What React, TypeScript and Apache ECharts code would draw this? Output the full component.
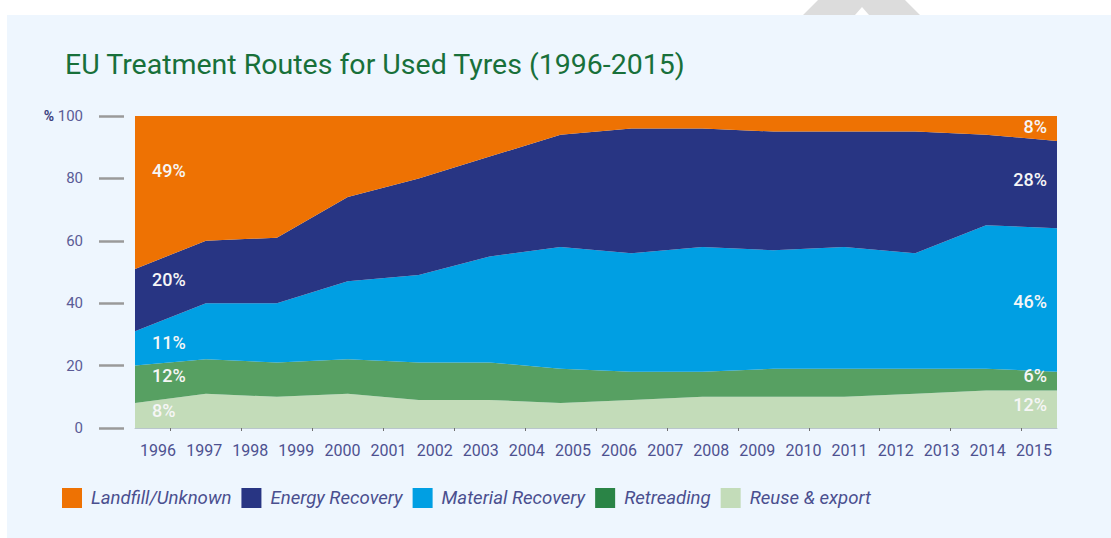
import React, { useEffect, useRef } from "react";
import * as echarts from "echarts";

// ---- data ----
const yearLabels = ["1996","1997","1998","1999","2000","2001","2002","2003","2004","2005","2006","2007","2008","2009","2010","2011","2012","2013","2014","2015"];
const samplePoints = ["p1","p2","p3","p4","p5","p6","p7","p8","p9","p10","p11","p12","p13","p14"];
const tickMarks = ["t1","t2","t3","t4","t5","t6","t7","t8","t9","t10","t11","t12","t13"];

const reuseExport = [8, 11, 10, 11, 9, 9, 8, 9, 10, 10, 10, 11, 12, 12];
const retreading = [12, 11, 11, 11, 12, 12, 11, 9, 8, 9, 9, 8, 7, 6];
const materialRecovery = [11, 18, 19, 25, 28, 34, 39, 38, 40, 38, 39, 37, 46, 46];
const energyRecovery = [20, 20, 21, 27, 31, 32, 36, 40, 38, 38, 37, 39, 29, 28];
const landfill = [49, 40, 39, 26, 20, 13, 6, 4, 4, 5, 5, 5, 6, 8];

const seriesNames = ["Landfill/Unknown", "Energy Recovery", "Material Recovery", "Retreading", "Reuse & export"];
const yTicks = [0, 20, 40, 60, 80, 100];

// value labels: [text, y-anchor in % units]
const leftLabels: [string, number][] = [["49%", 82.5], ["20%", 47.5], ["11%", 27.3], ["12%", 16.7], ["8%", 5.5]];
const rightLabels: [string, number][] = [["8%", 96.6], ["28%", 79.8], ["46%", 40.5], ["6%", 16.7], ["12%", 7.5]];

const FONT = "Roboto, 'Noto Sans', sans-serif";

export default function App() {
  const ref = useRef<HTMLDivElement>(null);
  useEffect(() => {
    if (!ref.current) return;
    const chart = echarts.init(ref.current, undefined, { renderer: "svg" });
    const colors = {
      landfill: "#ee7203",
      energy: "#283583",
      material: "#009fe3",
      retread: "#57a062",
      retreadLegend: "#2a8446",
      reuse: "#c3dcb9",
    };
    const mk = (labels: [string, number][], side: "left" | "right") =>
      labels.map(([t, v]) => ({
        name: t,
        coord: [side === "left" ? 0 : samplePoints.length - 1, v],
        symbol: "rect",
        symbolSize: 1,
        itemStyle: { color: "rgba(0,0,0,0)" },
        label: {
          show: true,
          formatter: "{b}",
          position: "inside",
          align: side === "left" ? "left" : "right",
          verticalAlign: "middle",
          offset: side === "left" ? [17, 0] : [-10, 0],
          color: "#f6f6f6",
          fontSize: 18,
          fontWeight: 500,
          fontFamily: FONT,
        },
      }));

    const allMarks = [...mk(leftLabels, "left"), ...mk(rightLabels, "right")];

    const seriesDef = [
      { name: "Reuse & export", data: reuseExport, color: colors.reuse },
      { name: "Retreading", data: retreading, color: colors.retread },
      { name: "Material Recovery", data: materialRecovery, color: colors.material },
      { name: "Energy Recovery", data: energyRecovery, color: colors.energy },
      { name: "Landfill/Unknown", data: landfill, color: colors.landfill },
    ];

    const legendColors: Record<string, string> = {
      "Landfill/Unknown": colors.landfill,
      "Energy Recovery": colors.energy,
      "Material Recovery": colors.material,
      "Retreading": colors.retreadLegend,
      "Reuse & export": colors.reuse,
    };

    chart.setOption({
      animation: false,
      backgroundColor: "#ffffff",
      graphic: [
        {
          type: "polygon",
          z: -10,
          shape: { points: [[803, 15], [818, 0], [905, 0], [920, 15], [869, 15], [862, 7], [855, 15]] },
          style: { fill: "#dcdcdc" },
          silent: true,
        },
        {
          type: "rect",
          z: -10,
          shape: { x: 7, y: 15, width: 1104, height: 523 },
          style: { fill: "#eef6fe" },
          silent: true,
        },
      ],
      title: {
        text: "EU Treatment Routes for Used Tyres (1996-2015)",
        left: 65,
        top: 50,
        padding: 0,
        textStyle: { color: "#18703a", fontSize: 28.5, fontWeight: 400, fontFamily: FONT },
      },
      legend: {
        data: seriesNames.map((n) => ({ name: n, itemStyle: { color: legendColors[n] } })),
        left: 62,
        top: 488,
        padding: 0,
        itemWidth: 20,
        itemHeight: 20,
        itemGap: 10,
        icon: "rect",
        textStyle: {
          color: "#4a4f8f",
          fontSize: 18.6,
          fontStyle: "italic",
          fontFamily: FONT,
          padding: [2, 0, 0, 4],
        },
      },
      grid: { left: 135, right: 54, top: 116, bottom: 110, containLabel: false },
      xAxis: [
        {
          type: "category",
          data: samplePoints,
          boundaryGap: false,
          show: false,
        },
        {
          type: "category",
          data: yearLabels,
          boundaryGap: true,
          position: "bottom",
          axisLine: { show: true, lineStyle: { color: "#b9c6cc", width: 1 } },
          axisTick: { show: false },
          axisLabel: { color: "#4d5190", fontSize: 16, fontFamily: FONT, margin: 14, interval: 0 },
        },
        {
          type: "category",
          data: tickMarks,
          boundaryGap: true,
          position: "bottom",
          axisLine: { show: false },
          axisTick: { show: true, alignWithLabel: true, length: 3, lineStyle: { color: "#707070", width: 1 } },
          axisLabel: { show: false },
        },
      ],
      yAxis: {
        type: "value",
        min: 0,
        max: 100,
        interval: 20,
        offset: 11,
        axisLine: { show: false },
        axisTick: { show: true, length: 25, lineStyle: { color: "#9a9a9a", width: 2.5 } },
        splitLine: { show: false },
        axisLabel: {
          margin: 41,
          color: "#5b5c96",
          fontSize: 15,
          fontFamily: FONT,
          formatter: (v: number) => (v === 100 ? "{p|%} " + yTicks[yTicks.length - 1] : String(v)),
          rich: {
            p: { color: "#3c3f80", fontSize: 14, fontWeight: 700, fontFamily: FONT },
          },
        },
      },
      series: seriesDef.map((s, i) => ({
        name: s.name,
        type: "line",
        stack: "total",
        xAxisIndex: 0,
        data: s.data,
        symbol: "none",
        lineStyle: { width: 0 },
        itemStyle: { color: s.color },
        areaStyle: { color: s.color, opacity: 1 },
        z: 2,
        markPoint: i === seriesDef.length - 1 ? { data: allMarks, silent: true, z: 10 } : undefined,
      })),
    });
    return () => chart.dispose();
  }, []);
  return (
    <div
      ref={ref}
      style={{ position: "fixed", left: 0, top: 0, width: 1111, height: 538 }}
    />
  );
}
